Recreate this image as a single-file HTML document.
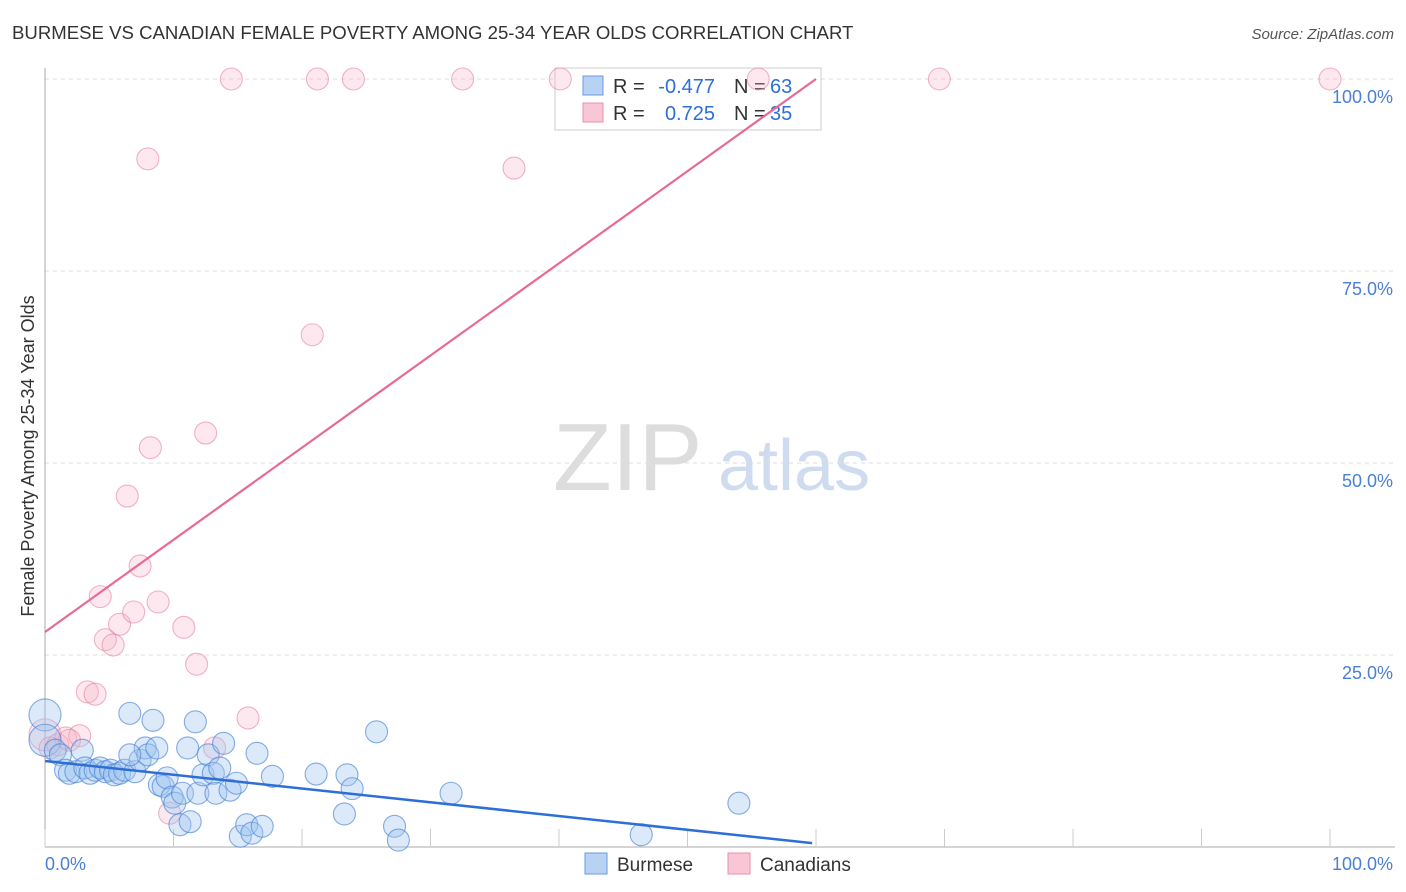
<!DOCTYPE html>
<html><head><meta charset="utf-8"><style>
body{margin:0;background:#fff;font-family:"Liberation Sans",sans-serif;}
#wrap{position:relative;width:1406px;height:892px;overflow:hidden;}
svg text{font-family:"Liberation Sans",sans-serif;}
</style></head><body>
<div id="wrap">
<svg id="chart" width="1406" height="892"></svg>
</div>
<script>
const blueX=[0,0,0.8,1.2,1.6,1.9,2.4,2.9,3.1,3.5,3.9,4.3,4.7,5.1,5.4,5.8,6.2,6.6,7.0,7.4,7.8,8.0,8.4,8.7,8.9,9.2,9.5,9.9,10.1,10.5,10.7,11.3,11.7,11.1,11.9,12.3,12.7,13.1,13.3,13.6,13.9,14.4,14.9,15.2,15.7,16.1,16.5,16.9,17.7,21.1,23.3,23.5,23.9,25.8,27.2,27.5,31.6,46.4,54.0,6.6];
const blueY=[17.2,13.9,12.6,12.0,10.0,9.6,9.8,12.6,10.3,9.6,10.0,10.3,9.8,10.0,9.4,9.6,10.0,17.4,9.8,11.3,12.9,12.0,16.5,12.9,8.1,7.9,9.0,6.5,5.7,2.9,7.0,3.3,16.3,12.9,7.0,9.4,12.0,9.6,7.0,10.3,13.5,7.4,8.3,1.4,2.9,1.8,12.2,2.7,9.2,9.5,4.3,9.4,7.6,15.0,2.7,0.9,7.0,1.6,5.7,12.0];
const pinkX=[0,0.4,1.0,1.6,2.7,1.9,3.3,3.9,4.3,4.7,5.3,5.8,6.4,6.9,7.4,8.0,8.2,8.8,9.7,10.8,11.8,12.5,13.2,14.5,15.8,20.8,21.2,24.0,32.5,36.5,40.1,55.5,69.6,100];
const pinkY=[14.6,12.9,13.3,14.2,14.5,13.9,20.2,19.9,32.6,27.0,26.3,29.0,45.7,30.6,36.6,89.6,52.0,31.9,4.4,28.6,23.8,53.9,12.9,100,16.8,66.7,100,100,100,88.4,100,100,100,100];
const blueTrend=[[0,11.2],[59.7,0.5]];
const pinkTrend=[[0,28.0],[60,100]];
const yTicks=[25,50,75,100];
const xTickVals=[0,10,20,30,40,50,60,70,80,90,100];

const X0=45,X1=1330,Y0=847,Y100=79;
const sx=v=>X0+(X1-X0)*v/100;
const sy=v=>Y0-(Y0-Y100)*v/100;
const svg=document.getElementById('chart');
const NS='http://www.w3.org/2000/svg';
function mk(tag,attrs,parent){const e=document.createElementNS(NS,tag);for(const k in attrs)e.setAttribute(k,attrs[k]);(parent||svg).appendChild(e);return e;}

let t=mk('text',{x:12,y:39,'font-size':18.6,fill:'#333'});t.textContent='BURMESE VS CANADIAN FEMALE POVERTY AMONG 25-34 YEAR OLDS CORRELATION CHART';


t=mk('text',{x:1394,y:39,'font-size':15,fill:'#555','text-anchor':'end','font-style':'italic'});t.textContent='Source: ZipAtlas.com';



t=mk('text',{x:553,y:490,'font-size':96,fill:'#ddd','font-family':'Liberation Serif'});t.textContent='ZIP';


t=mk('text',{x:718,y:490,'font-size':72,fill:'#cfdcf0'});t.textContent='atlas';



yTicks.forEach(v=>{
 const l=mk('line',{x1:X0,x2:1395,y1:sy(v),y2:sy(v),stroke:'#ddd','stroke-dasharray':'4,4'});
 
 
 const tx=mk('text',{x:1393,y:sy(v)+24,'font-size':18,fill:'#4a7fd4','text-anchor':'end'});tx.textContent=v.toFixed(1)+'%';
 
 
});
let a=mk('line',{x1:X0,x2:X0,y1:68,y2:Y0,stroke:'#aaa'});


a=mk('line',{x1:X0,x2:1395,y1:Y0,y2:Y0,stroke:'#aaa'});


xTickVals.forEach(v=>{
 const l=mk('line',{x1:sx(v),x2:sx(v),y1:Y0,y2:Y0-18,stroke:'#ccc'});
 
 
});
t=mk('text',{x:45,y:870,'font-size':18,fill:'#4a7fd4'});t.textContent='0.0%';


t=mk('text',{x:1393,y:870,'font-size':18,fill:'#4a7fd4','text-anchor':'end'});t.textContent='100.0%';


t=mk('text',{x:34,y:456,'font-size':18,fill:'#333','text-anchor':'middle',transform:'rotate(-90 34 456)'});t.textContent='Female Poverty Among 25-34 Year Olds';



// legend box (drawn under the trend lines)
const lg=mk('g',{});


mk('rect',{x:555,y:68,width:266,height:62,fill:'rgba(255,255,255,0.9)',stroke:'#ccc'},lg);
mk('rect',{x:583,y:76,width:20,height:19,fill:'#b8d2f4',stroke:'#6a9ae0'},lg);
mk('rect',{x:583,y:103,width:20,height:19,fill:'#f9c6d6',stroke:'#e890ac'},lg);
function lt(x,y,s,c,anchor){const e=mk('text',{x:x,y:y,'font-size':20,fill:c,'text-anchor':anchor||'start'},lg);e.textContent=s;return e;}
lt(613,93,'R =','#333');lt(715,93,'-0.477','#2d6fd6','end');lt(734,93,'N =','#333');lt(770,93,'63','#2d6fd6');
lt(613,120,'R =','#333');lt(715,120,'0.725','#2d6fd6','end');lt(734,120,'N =','#333');lt(770,120,'35','#2d6fd6');

function pts(xs,ys,fill,stroke,name){
 xs.forEach((x,i)=>{
  const r=(x===0&&i<2)?16:11;
  const c=mk('circle',{cx:sx(x),cy:sy(ys[i]),r:r,fill:fill,stroke:stroke,'stroke-width':1.1});
  
  
 });
}
pts(pinkX,pinkY,'rgba(246,180,200,0.3)','rgba(232,130,160,0.6)','canadians-point');
pts(blueX,blueY,'rgba(160,196,240,0.38)','rgba(70,130,215,0.65)','burmese-point');

let ln=mk('line',{x1:sx(blueTrend[0][0]),y1:sy(blueTrend[0][1]),x2:sx(blueTrend[1][0]),y2:sy(blueTrend[1][1]),stroke:'#2d6fd6','stroke-width':2.5});


ln=mk('line',{x1:sx(pinkTrend[0][0]),y1:sy(pinkTrend[0][1]),x2:sx(pinkTrend[1][0]),y2:sy(pinkTrend[1][1]),stroke:'#e86a94','stroke-width':2.2});



const bl=mk('g',{});


mk('rect',{x:585,y:853,width:22,height:21,fill:'#b8d2f4',stroke:'#6a9ae0'},bl);
t=mk('text',{x:617,y:871,'font-size':19,fill:'#333'},bl);t.textContent='Burmese';
mk('rect',{x:728,y:853,width:22,height:21,fill:'#f9c6d6',stroke:'#e890ac'},bl);
t=mk('text',{x:760,y:871,'font-size':19,fill:'#333'},bl);t.textContent='Canadians';
</script>
</body></html>
